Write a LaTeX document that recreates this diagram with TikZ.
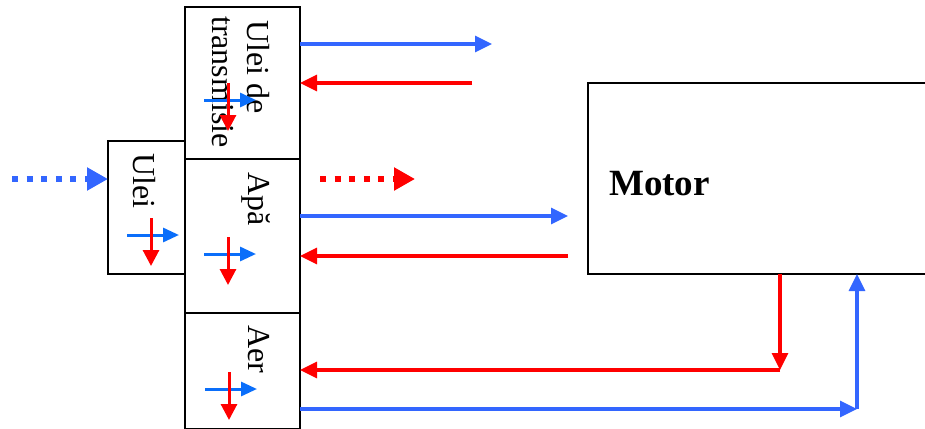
\documentclass[tikz,border=0pt]{standalone}
\usepackage{fontspec}
\setmainfont{Liberation Serif}
\usetikzlibrary{arrows.meta}

\definecolor{flowblue}{RGB}{51,102,255}
\definecolor{markblue}{RGB}{10,110,250}
\definecolor{flowred}{RGB}{255,0,0}

\tikzset{
  box/.style={draw=black, line width=2.4pt, rectangle, inner sep=0pt, outer sep=0pt, anchor=north west},
  lbl/.style={rotate=-90, anchor=base west, inner sep=0pt, font=\fontsize{32}{36}\selectfont},
  bluearr/.style={draw=flowblue, line width=3.2pt, -{Triangle[length=17pt,width=16pt]}},
  redarr/.style={draw=flowred, line width=3.2pt, -{Triangle[length=17pt,width=16pt]}},
  bluedot/.style={draw=flowblue, line width=6pt, dash pattern=on 6pt off 8.6pt, -{Triangle[length=21pt,width=22pt]}},
  reddot/.style={draw=flowred, line width=6pt, dash pattern=on 6pt off 8.6pt, -{Triangle[length=21pt,width=22pt]}},
  flowmark/.pic={
    \draw[draw=markblue, line width=3pt, -{Triangle[length=16pt,width=14pt]}] (-24,0) -- (28,0);
    \draw[draw=flowred, line width=3pt, -{Triangle[length=16pt,width=16pt]}] (0,-17) -- (0,31);
  }
}

\begin{document}
\begin{tikzpicture}[x=1pt, y=-1pt]
  \useasboundingbox (0,0) rectangle (925,428);
  \clip (0,0) rectangle (925,428);

  % circuit blocks
  \node[box, minimum width=115pt, minimum height=152pt] (trans) at (185,7) {};
  \node[box, minimum width=115pt, minimum height=154pt] (apa) at (185,159) {};
  \node[box, minimum width=115pt, minimum height=116pt] (aer) at (185,313) {};
  \node[box, minimum width=77pt, minimum height=133pt] (ulei) at (108,141) {};
  \node[box, minimum width=345pt, minimum height=191pt] (motor) at (588,83) {};

  % labels
  \node[lbl] (ltr1) at (247,20) {Ulei de};
  \node[lbl] (ltr2) at (212,16) {transmisie};
  \node[lbl] (lulei) at (133,153) {Ulei};
  \node[lbl] (lapa) at (248,172) {Apă};
  \node[lbl] (laer) at (248,325) {Aer};
  \node[anchor=base west, inner sep=0pt, font=\fontsize{37}{41}\selectfont\bfseries] (lmotor) at (609,195) {Motor};

  % flow markers inside blocks
  \pic at (228,100) {flowmark};
  \pic at (151,235) {flowmark};
  \pic at (228,254) {flowmark};
  \pic at (229,389) {flowmark};

  % free ends and corners
  \coordinate (inS) at (12,179);
  \coordinate (outS) at (320,179);
  \coordinate (outE) at (415,179);
  \coordinate (t1) at (492,44);
  \coordinate (t2) at (472,83);
  \coordinate (a1) at (568,216);
  \coordinate (a2) at (568,256);
  \coordinate (rc) at (780,370);
  \coordinate (bc) at (857,409);

  % dotted feed arrows
  \draw[bluedot] (inS) -- (ulei.west |- inS);
  \draw[reddot] (outS) -- (outE);

  % transmission oil loop
  \draw[bluearr] (trans.east |- t1) -- (t1);
  \draw[redarr] (t2) -- (trans.east |- t2);

  % water loop
  \draw[bluearr] (apa.east |- a1) -- (a1);
  \draw[redarr] (a2) -- (apa.east |- a2);

  % air loop
  \draw[redarr] (motor.south -| rc) -- (rc);
  \draw[redarr] (rc) -- (aer.east |- rc);
  \draw[bluearr] (aer.east |- bc) -- (bc);
  \draw[bluearr] (bc) -- (motor.south -| bc);
\end{tikzpicture}
\end{document}
